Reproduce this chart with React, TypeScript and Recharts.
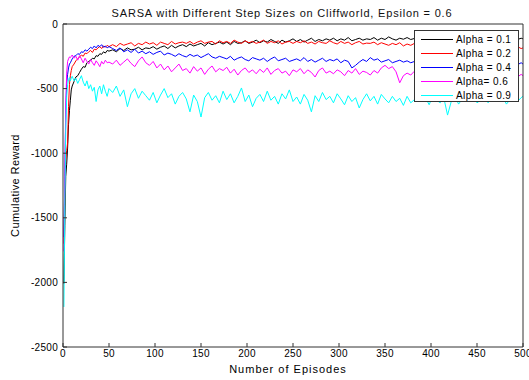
import { LineChart, Line, XAxis, YAxis, Label } from "recharts";

// episode numbers sampled for every run (dense at the start, every 4 afterwards)
const episodes = [
  1, 2, 3, 4, 5, 6, 7, 8, 9, 10,
  12, 14, 16, 18, 20, 22, 24, 26, 28, 30, 32, 34, 36, 38, 40, 42, 44, 46, 48, 50,
  54, 58, 62, 66, 70, 74, 78, 82, 86, 90,
  94, 98, 102, 106, 110, 114, 118, 122, 126, 130,
  134, 138, 142, 146, 150, 154, 158, 162, 166, 170,
  174, 178, 182, 186, 190, 194, 198, 202, 206, 210,
  214, 218, 222, 226, 230, 234, 238, 242, 246, 250,
  254, 258, 262, 266, 270, 274, 278, 282, 286, 290,
  294, 298, 302, 306, 310, 314, 318, 322, 326, 330,
  334, 338, 342, 346, 350, 354, 358, 362, 366, 370,
  374, 378, 382, 386, 390, 394, 398, 402, 406, 410,
  414, 418, 422, 426, 430, 434, 438, 442, 446, 450,
  454, 458, 462, 466, 470, 474, 478, 482, 486, 490,
  494, 498, 500,
];

const alpha01 = [
  -2010, -1560, -1180, -1085, -960, -780, -670, -590, -510, -480,
  -445, -410, -400, -375, -350, -330, -335, -300, -290, -280, -265, -270, -245, -250, -230, -235, -215, -225, -205, -210,
  -200, -215, -190, -205, -185, -200, -195, -180, -200, -185,
  -190, -175, -195, -180, -170, -190, -165, -185, -170, -160,
  -175, -155, -170, -160, -150, -170, -145, -160, -150, -140,
  -155, -140, -160, -135, -150, -145, -130, -150, -140, -125,
  -145, -130, -140, -120, -135, -150, -125, -140, -130, -115,
  -135, -120, -140, -125, -110, -135, -120, -130, -115, -125,
  -110, -130, -115, -125, -105, -130, -120, -110, -125, -115,
  -120, -105, -125, -110, -120, -100, -115, -125, -110, -118,
  -105, -120, -112, -100, -118, -108, -125, -110, -102, -120,
  -112, -105, -122, -108, -115, -100, -120, -110, -105, -118,
  -108, -120, -102, -115, -110, -125, -105, -118, -112, -108,
  -120, -110, -115,
];

const alpha02 = [
  -1700, -1320, -1050, -980, -920, -640, -470, -400, -360, -330,
  -310, -285, -270, -255, -240, -250, -225, -230, -215, -205, -220, -195, -200, -185, -175, -190, -170, -180, -165, -175,
  -160, -175, -150, -165, -155, -145, -170, -150, -160, -140,
  -155, -145, -165, -140, -150, -160, -135, -155, -145, -140,
  -150, -135, -155, -140, -130, -150, -140, -135, -155, -130,
  -145, -135, -150, -125, -140, -150, -130, -145, -135, -150,
  -140, -125, -150, -135, -145, -130, -155, -140, -135, -150,
  -135, -145, -130, -150, -140, -155, -135, -145, -150, -130,
  -145, -155, -135, -150, -140, -160, -145, -135, -155, -148,
  -150, -140, -160, -145, -155, -165, -150, -160, -145, -170,
  -155, -165, -150, -170, -160, -155, -175, -160, -170, -158,
  -165, -175, -160, -180, -168, -160, -185, -170, -175, -165,
  -178, -170, -185, -175, -165, -190, -178, -170, -185, -180,
  -175, -190, -185,
];

const alpha04 = [
  -1650, -1180, -700, -460, -390, -340, -310, -300, -285, -270,
  -250, -245, -230, -235, -215, -220, -200, -210, -195, -180, -190, -170, -185, -165, -175, -160, -180, -170, -185, -175,
  -190, -205, -185, -215, -200, -220, -195, -225, -210, -230,
  -215, -235, -220, -210, -240, -225, -235, -250, -230, -245,
  -255, -235, -250, -240, -260, -245, -230, -255, -265, -250,
  -260, -270, -250, -280, -265, -255, -275, -285, -260, -270,
  -280, -265, -290, -270, -255, -285, -275, -265, -290, -280,
  -270, -285, -260, -290, -275, -295, -280, -265, -290, -275,
  -285, -270, -300, -280, -290, -340, -320, -295, -275, -290,
  -260, -280, -270, -295, -285, -275, -300, -290, -280, -295,
  -285, -300, -290, -275, -305, -295, -285, -310, -300, -290,
  -305, -290, -315, -300, -285, -310, -295, -320, -305, -290,
  -310, -300, -325, -305, -295, -315, -300, -320, -310, -305,
  -315, -300, -310,
];

const alpha06 = [
  -1760, -1150, -620, -380, -290, -270, -255, -260, -250, -240,
  -265, -250, -280, -245, -270, -300, -265, -290, -310, -275, -300, -320, -285, -305, -330, -290, -310, -280, -300, -295,
  -310, -280, -320, -295, -270, -305, -330, -285, -255, -300,
  -320, -290, -340, -310, -355, -325, -370, -340, -310, -360,
  -345, -380, -330, -365, -340, -390, -350, -325, -370, -345,
  -360, -335, -380, -350, -395, -360, -340, -375, -355, -385,
  -350, -375, -340, -390, -360, -345, -380, -365, -400, -355,
  -370, -345, -385, -355, -375, -410, -360, -340, -380, -365,
  -385, -355, -370, -400, -360, -380, -345, -390, -365, -375,
  -395, -360, -380, -340, -320, -345, -330, -370, -455, -400,
  -380, -395, -365, -400, -375, -390, -410, -370, -395, -385,
  -400, -375, -410, -385, -395, -420, -380, -400, -390, -410,
  -385, -405, -395, -415, -380, -400, -420, -390, -405, -395,
  -410, -390, -400,
];

const alpha09 = [
  -2190, -1400, -820, -560, -470, -430, -415, -440, -420, -405,
  -440, -420, -460, -430, -400, -450, -480, -440, -500, -470, -520, -490, -600, -510, -480, -540, -470, -520, -560, -500,
  -530, -480, -560, -510, -640, -540, -500, -575, -520, -555,
  -590, -530, -610, -550, -500, -570, -540, -620, -560, -530,
  -580, -680, -550, -600, -720, -570, -530, -590, -555, -610,
  -520, -585, -540, -610, -560, -495, -600, -550, -640, -575,
  -545, -600, -520, -590, -560, -620, -540, -580, -510, -600,
  -565, -620, -545, -590, -680, -555, -600, -530, -585, -560,
  -610, -540, -580, -625, -555, -600, -570, -650, -585, -540,
  -595, -560, -620, -545, -580, -610, -560, -600, -575, -630,
  -560, -610, -585, -540, -600, -570, -625, -555, -590, -610,
  -575, -705, -600, -560, -620, -580, -545, -600, -570, -610,
  -590, -555, -610, -580, -540, -600, -565, -620, -585, -560,
  -600, -570, -560,
];

const xTicks = [0, 50, 100, 150, 200, 250, 300, 350, 400, 450, 500];
const yTicks = [-2500, -2000, -1500, -1000, -500, 0];

const series = [
  { key: "a01", label: "Alpha = 0.1", color: "#000000", values: alpha01 },
  { key: "a02", label: "Alpha = 0.2", color: "#ff0000", values: alpha02 },
  { key: "a04", label: "Alpha = 0.4", color: "#0000ff", values: alpha04 },
  { key: "a06", label: "Alpha= 0.6", color: "#ff00ff", values: alpha06 },
  { key: "a09", label: "Alpha = 0.9", color: "#00ffff", values: alpha09 },
];

const data = episodes.map((ep, i) => {
  const row: Record<string, number> = { ep };
  series.forEach((s) => (row[s.key] = s.values[i]));
  return row;
});

const FONT = '"Liberation Sans", Arial, Helvetica, sans-serif';
const AXIS = "#333333";
const tickStyle = { fontSize: 10, fill: "#000", fontFamily: FONT, letterSpacing: 0.3 };

export default function App() {
  return (
    <div
      style={{
        position: "absolute",
        left: 0,
        top: 0,
        width: 529,
        height: 380,
        background: "#fff",
        fontFamily: FONT,
      }}
    >
      <div
        style={{
          position: "absolute",
          left: 52,
          top: 5,
          width: 460,
          textAlign: "center",
          fontSize: 11,
          letterSpacing: 0.8,
          color: "#111",
          lineHeight: "16px",
        }}
      >
        SARSA with Different Step Sizes on Cliffworld, Epsilon = 0.6
      </div>

      {/* axes are 1px thick so they still render; the box is 63..523 x 24..347 */}
      <LineChart
        width={529}
        height={380}
        data={data}
        margin={{ top: 23, right: 5, bottom: 32, left: 62 }}
      >
        <XAxis
          dataKey="ep"
          type="number"
          domain={[0, 500]}
          allowDataOverflow
          ticks={xTicks}
          height={1}
          tickSize={-4}
          tickMargin={7}
          tick={tickStyle}
          stroke={AXIS}
          interval={0}
        >
          <Label
            value="Number of Episodes"
            position="bottom"
            offset={17}
            dx={-5}
            style={{ fontSize: 11, fill: "#000", fontFamily: FONT, letterSpacing: 1 }}
          />
        </XAxis>
        <XAxis
          xAxisId="top"
          orientation="top"
          type="number"
          domain={[0, 500]}
          allowDataOverflow
          ticks={xTicks}
          height={1}
          tickSize={-4}
          tick={false}
          stroke={AXIS}
        />
        <YAxis
          type="number"
          domain={[-2500, 0]}
          allowDataOverflow
          ticks={yTicks}
          width={1}
          tickSize={-4}
          tickMargin={9}
          tick={tickStyle}
          stroke={AXIS}
          interval={0}
        >
          <Label
            value="Cumulative Reward"
            angle={-90}
            position="left"
            offset={47}
            style={{ fontSize: 11, fill: "#000", fontFamily: FONT, textAnchor: "middle", letterSpacing: 0.4 }}
          />
        </YAxis>
        <YAxis
          yAxisId="right"
          orientation="right"
          type="number"
          domain={[-2500, 0]}
          allowDataOverflow
          ticks={yTicks}
          width={1}
          tickSize={-4}
          tick={false}
          stroke={AXIS}
        />
        {series.map((s) => (
          <Line
            key={s.key}
            dataKey={s.key}
            type="linear"
            stroke={s.color}
            strokeWidth={1}
            dot={false}
            activeDot={false}
            isAnimationActive={false}
          />
        ))}
      </LineChart>

      <div
        style={{
          position: "absolute",
          left: 414,
          top: 30,
          width: 103,
          height: 70,
          border: `1px solid ${AXIS}`,
          background: "#fff",
          fontSize: 10,
          letterSpacing: 0.4,
          color: "#000",
        }}
      >
        {series.map((s, i) => (
          <div
            key={s.key}
            style={{
              position: "absolute",
              left: 0,
              top: 1 + i * 14,
              height: 14,
              display: "flex",
              alignItems: "center",
              whiteSpace: "nowrap",
            }}
          >
            <svg width={38} height={14} style={{ display: "block" }}>
              <line x1={6} x2={38} y1={7.5} y2={7.5} stroke={s.color} strokeWidth={1} />
            </svg>
            <span style={{ marginLeft: 3 }}>{s.label}</span>
          </div>
        ))}
      </div>
    </div>
  );
}
